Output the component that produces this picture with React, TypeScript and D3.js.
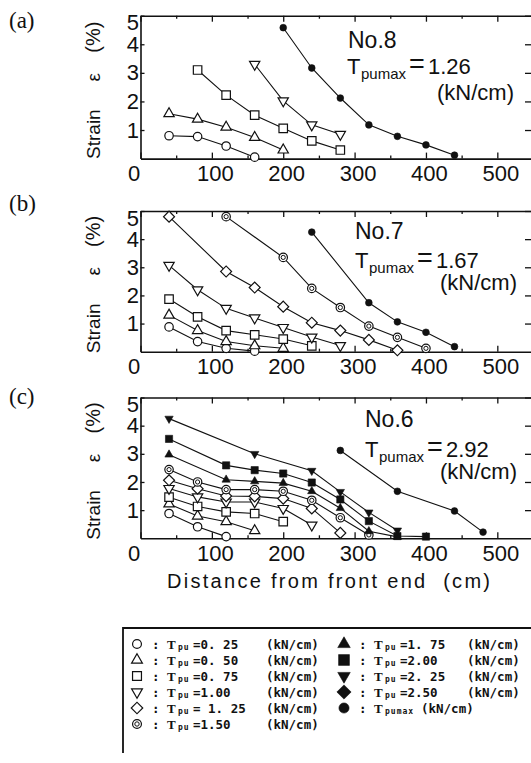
import * as React from "react";
import * as d3 from "d3";

const _ = null;

// distance from the front end (cm) of each strain gauge
const distance = [40, 80, 120, 160, 200, 240, 280, 320, 360, 400, 440, 480];

// (a) No.8, Tpumax = 1.26
const a_025 = [0.8, 0.77, 0.44, 0.05];
const a_050 = [1.57, 1.38, 1.1, 0.74, 0.3];
const a_075 = [_, 3.1, 2.22, 1.52, 1.06, 0.62, 0.3];
const a_100 = [_, _, _, 3.3, 2.02, 1.18, 0.85];
const a_max = [_, _, _, _, 4.58, 3.17, 2.12, 1.18, 0.78, 0.48, 0.12];

// (b) No.7, Tpumax = 1.67
const b_025 = [0.88, 0.36, 0.12, 0.02];
const b_050 = [1.3, 0.75, 0.36, 0.21, 0.12];
const b_075 = [1.87, 1.24, 0.75, 0.6, 0.45, 0.21];
const b_100 = [3.07, 2.2, 1.54, 1.2, 0.86, 0.52, 0.22];
const b_125 = [4.8, _, 2.85, 2.28, 1.6, 1.03, 0.75, 0.42, 0.05];
const b_150 = [_, _, 4.8, _, 3.35, 2.25, 1.57, 0.91, 0.51, 0.12];
const b_max = [_, _, _, _, _, 4.25, _, 1.74, 1.06, 0.69, 0.18];

// (c) No.6, Tpumax = 2.92
const c_025 = [0.88, 0.41, 0.06];
const c_050 = [1.22, 0.79, 0.59, 0.27];
const c_075 = [1.46, 1.13, 0.94, 0.88, 0.59];
const c_100 = [1.77, 1.47, 1.29, 1.29, 1.06, 0.47];
const c_125 = [2.06, 1.76, 1.5, 1.49, 1.41, 1.06, 0.19];
const c_150 = [2.44, 2.0, 1.73, 1.73, 1.67, 1.35, 0.73, 0.12];
const c_175 = [2.97, _, 2.08, 2.02, 1.96, 1.67, 1.07, 0.25, 0.05];
const c_200 = [3.53, _, 2.59, 2.42, 2.3, 1.98, 1.38, 0.61, 0.08, 0.06];
const c_225 = [4.25, _, _, 3.0, _, 2.4, 1.65, 0.92, 0.28];
const c_max = [_, _, _, _, _, _, 3.12, _, 1.67, _, 0.97, 0.22];

const xTicks = [0, 100, 200, 300, 400, 500];
const xMinorTicks = [50, 150, 250, 350, 450];
const yTicks = [1, 2, 3, 4, 5];

const panelLabels = ["(a)", "(b)", "(c)"];
const specimens = ["No.8", "No.7", "No.6"];
const tpumax = ["1.26", "1.67", "2.92"];

const legendLeftKeys = ["p025", "p050", "p075", "p100", "p125", "p150"];
const legendLeft = ["=0. 25", "=0. 50", "=0. 75", "=1.00", "= 1. 25", "=1.50"];
const legendRightKeys = ["p175", "p200", "p225", "p250"];
const legendRight = ["=1. 75", "=2.00", "=2. 25", "=2.50"];

const panelSeries: [string, (number | null)[]][][] = [
  [["p025", a_025], ["p050", a_050], ["p075", a_075], ["p100", a_100], ["max", a_max]],
  [["p025", b_025], ["p050", b_050], ["p075", b_075], ["p100", b_100], ["p125", b_125], ["p150", b_150], ["max", b_max]],
  [["p025", c_025], ["p050", c_050], ["p075", c_075], ["p100", c_100], ["p125", c_125], ["p150", c_150],
    ["p175", c_175], ["p200", c_200], ["p225", c_225], ["max", c_max]],
];

const markerStyle: any = {
  p025: {type: d3.symbolCircle, size: 56, filled: false, rot: 0},
  p050: {type: d3.symbolTriangle, size: 46, filled: false, rot: 0},
  p075: {type: d3.symbolSquare, size: 72, filled: false, rot: 0},
  p100: {type: d3.symbolTriangle, size: 46, filled: false, rot: 180},
  p125: {type: d3.symbolSquare, size: 60, filled: false, rot: 45},
  p150: {type: d3.symbolCircle, size: 56, filled: false, rot: 0, ring: true},
  p175: {type: d3.symbolTriangle, size: 30, filled: true, rot: 0},
  p200: {type: d3.symbolSquare, size: 52, filled: true, rot: 0},
  p225: {type: d3.symbolTriangle, size: 30, filled: true, rot: 180},
  p250: {type: d3.symbolSquare, size: 45, filled: true, rot: 45},
  max: {type: d3.symbolCircle, size: 36, filled: true, rot: 0},
};

// pixel placement of the three panels
const layout = [
  {top: 15.7, bottom: 158.6, labelY: 27.5, noX: 348, noY: 32, tX: 347, tY: 58.5, unitX: 437, unitY: 84},
  {top: 211, bottom: 351.7, labelY: 211, noX: 355, noY: 28, tX: 355, tY: 57, unitX: 440, unitY: 79},
  {top: 397.5, bottom: 538.3, labelY: 404, noX: 365, noY: 29, tX: 365, tY: 59, unitX: 440, unitY: 81},
];

const sans = "Liberation Sans, Arial, Helvetica, sans-serif";
const serif = "Liberation Serif, Times New Roman, serif";
const mono = "DejaVu Sans Mono, Liberation Mono, monospace";

function drawMarker(g: any, key: string, cx: number, cy: number, k = 1) {
  const m = markerStyle[key];
  g.append("path")
    .attr("d", d3.symbol().type(m.type).size(m.size * k * k)())
    .attr("transform", `translate(${cx},${cy}) rotate(${m.rot})`)
    .attr("fill", m.filled ? "#111" : "white")
    .attr("stroke", "#111")
    .attr("stroke-width", m.filled ? 0.6 : 1.2);
  if (m.ring) {
    g.append("circle").attr("cx", cx).attr("cy", cy).attr("r", 2.1 * k)
      .attr("fill", "none").attr("stroke", "#111").attr("stroke-width", 1);
  }
}

export default function App() {
  const ref = React.useRef<SVGSVGElement>(null);

  React.useEffect(() => {
    const svg = d3.select(ref.current);
    svg.selectAll("*").remove();

    const x = d3.scaleLinear().domain([0, 550]).range([140.5, 533]);
    const line = d3.line<[number, number]>().x(d => x(d[0])).y(d => d[1]);

    layout.forEach((L, i) => {
      const y = d3.scaleLinear().domain([0, 5]).range([L.bottom, L.top]);
      const g = svg.append("g");

      // bottom axis with labels
      const bx = g.append("g").attr("transform", `translate(0,${L.bottom})`)
        .call(d3.axisBottom(x).tickValues(xTicks).tickSizeInner(-6).tickSizeOuter(0).tickPadding(7).tickFormat(d3.format("d")));
      bx.selectAll("text").attr("x", (d: any) => d === 0 ? -7 : 3)
        .attr("font-size", 22).attr("font-family", sans).attr("fill", "#111");
      g.append("g").attr("transform", `translate(0,${L.bottom})`)
        .call(d3.axisBottom(x).tickValues(xMinorTicks).tickSizeInner(-3).tickSizeOuter(0).tickFormat(() => ""))
        .select(".domain").remove();

      // top border
      g.append("g").attr("transform", `translate(0,${L.top})`)
        .call(d3.axisTop(x).tickValues(xTicks).tickSizeInner(-6).tickSizeOuter(0).tickFormat(() => ""));
      g.append("g").attr("transform", `translate(0,${L.top})`)
        .call(d3.axisTop(x).tickValues(xMinorTicks).tickSizeInner(-3).tickSizeOuter(0).tickFormat(() => ""))
        .select(".domain").remove();

      // left axis
      const ly = g.append("g").attr("transform", `translate(${x(0)},0)`)
        .call(d3.axisLeft(y).tickValues(yTicks).tickSizeInner(-4).tickSizeOuter(0).tickPadding(1.5).tickFormat(d3.format("d")));
      ly.selectAll("text").attr("font-size", 22).attr("font-family", sans).attr("fill", "#111")
        .attr("dy", (d: any) => d === 5 ? "0.64em" : "0.32em");

      // right border
      g.append("g").attr("transform", `translate(${x(550)},0)`)
        .call(d3.axisRight(y).tickValues(yTicks).tickSizeInner(-8).tickSizeOuter(0).tickFormat(() => ""));

      g.selectAll(".domain").attr("stroke", "#111").attr("stroke-width", 1.6);
      g.selectAll(".tick line").attr("stroke", "#111").attr("stroke-width", 1.3);

      // curves
      const series = panelSeries[i];
      series.forEach(([key, vals]) => {
        const pts = distance.map((d, j) => [d, vals[j]]).filter(p => p[1] != null) as [number, number][];
        g.append("path").datum(pts.map(p => [p[0], y(p[1])] as [number, number]))
          .attr("d", line).attr("fill", "none").attr("stroke", "#111").attr("stroke-width", 1.1);
      });
      series.forEach(([key, vals]) => {
        distance.forEach((d, j) => {
          if (vals[j] != null) drawMarker(g, key, x(d), y(vals[j] as number));
        });
      });

      // panel tag
      g.append("text").attr("x", 9).attr("y", L.labelY).attr("font-family", serif)
        .attr("font-size", 23).attr("fill", "#111").text(panelLabels[i]);

      // y label
      const mid = (L.top + L.bottom) / 2;
      const ylab: [string, number, number][] = [["Strain", 47, 19], ["ε", -10, 19], ["(%)", -50, 20]];
      ylab.forEach(([t, off, fs]) => {
        g.append("text").attr("transform", `translate(100,${mid + off}) rotate(-90)`)
          .attr("text-anchor", "middle").attr("font-family", sans).attr("font-size", fs).attr("fill", "#111")
          .text(t);
      });

      // specimen annotation
      g.append("text").attr("x", L.noX).attr("y", L.top + L.noY).attr("font-family", sans)
        .attr("font-size", 23).attr("fill", "#111").text(specimens[i]);
      const ty = L.top + L.tY;
      g.append("text").attr("x", L.tX).attr("y", ty).attr("font-family", sans)
        .attr("font-size", 22).attr("fill", "#111").text("T");
      g.append("text").attr("x", L.tX + 14).attr("y", ty + 5).attr("font-family", sans)
        .attr("font-size", 15).attr("fill", "#111").text("pumax");
      g.append("text").attr("x", L.tX + 62).attr("y", ty - 1).attr("font-family", sans)
        .attr("font-size", 27).attr("fill", "#111").text("=");
      g.append("text").attr("x", L.tX + 81).attr("y", ty).attr("font-family", sans)
        .attr("font-size", 22).attr("fill", "#111").text(tpumax[i]);
      g.append("text").attr("x", L.unitX).attr("y", L.top + L.unitY).attr("font-family", sans)
        .attr("font-size", 22).attr("fill", "#111").text("(kN/cm)");
    });

    // x axis title
    svg.append("text").attr("x", 167).attr("y", 588).attr("font-family", sans).attr("font-size", 20)
      .attr("fill", "#111").attr("textLength", 323).attr("lengthAdjust", "spacing")
      .style("white-space", "pre").text("Distance from front end  (cm)");

    // legend box
    const lg = svg.append("g");
    lg.append("path").attr("d", "M123,753 V628 H533").attr("fill", "none")
      .attr("stroke", "#111").attr("stroke-width", 1.8);

    const rowY = (r: number) => 644 + 16 * r;
    const legendRow = (mx: number, key: string, r: number, value: string, sub: string, unitX: number) => {
      const cy = rowY(r);
      drawMarker(lg, key, mx, cy, markerStyle[key].filled ? 1.5 : 1.05);
      const base = cy + 4.5;
      lg.append("text").attr("x", mx + 15).attr("y", base).attr("font-family", mono).attr("font-weight", "bold")
        .attr("font-size", 12.5).attr("fill", "#111").text(":");
      lg.append("text").attr("x", mx + 30).attr("y", base).attr("font-family", serif).attr("font-weight", "bold")
        .attr("font-size", 13).attr("fill", "#111").text("T");
      lg.append("text").attr("x", mx + 41).attr("y", base + 1).attr("font-family", mono).attr("font-weight", "bold")
        .attr("font-size", 8).attr("letter-spacing", 1).attr("fill", "#111").text(sub);
      if (value) {
        lg.append("text").attr("x", mx + 56).attr("y", base).attr("font-family", mono).attr("font-weight", "bold")
          .attr("font-size", 12.5).attr("fill", "#111").style("white-space", "pre").text(value);
      }
      lg.append("text").attr("x", unitX).attr("y", base).attr("font-family", mono).attr("font-weight", "bold")
        .attr("font-size", 12.5).attr("fill", "#111").text("(kN/cm)");
    };
    legendLeftKeys.forEach((k, r) => legendRow(137, k, r, legendLeft[r], "pu", 266));
    legendRightKeys.forEach((k, r) => legendRow(344, k, r, legendRight[r], "pu", 467));
    legendRow(344, "max", 4, "", "pumax", 421);
  }, []);

  return (
    <>
      <style>{"body{margin:0;background:#fff}"}</style>
      <svg ref={ref} width={531} height={763} style={{display: "block", background: "#fff"}} />
    </>
  );
}
